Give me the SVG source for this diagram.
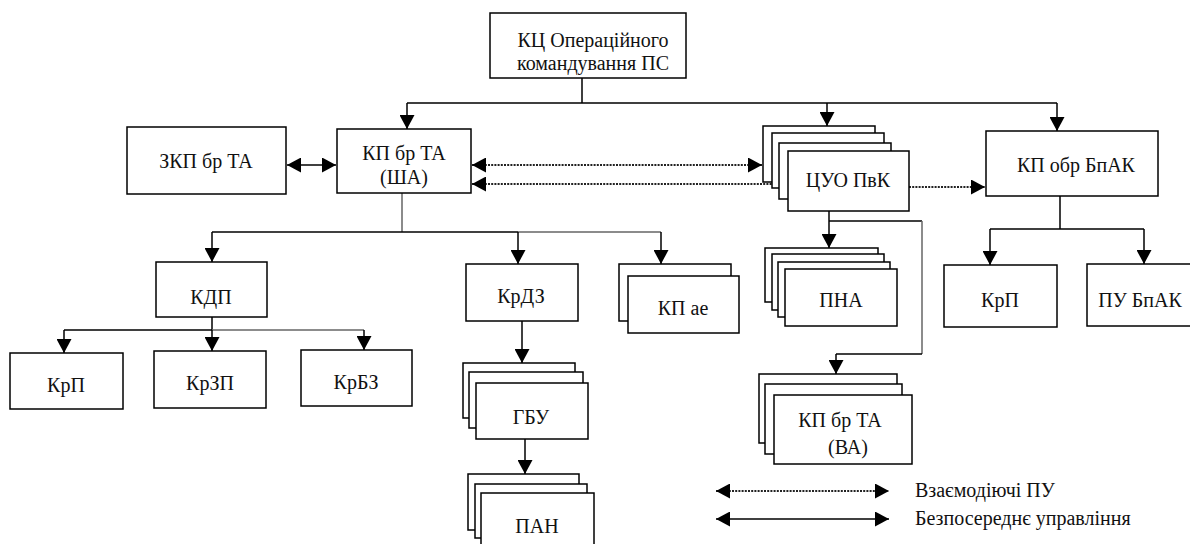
<svg xmlns="http://www.w3.org/2000/svg" width="1190" height="544" viewBox="0 0 1190 544" font-family="Liberation Serif, DejaVu Serif, serif">
  <style>
    .box { fill: #fff; stroke: #000; stroke-width: 1.5; }
    .t { font-size: 20px; fill: #111; text-anchor: middle; }
    .lt { font-size: 20px; fill: #111; }
    .ln { fill: none; stroke: #000; stroke-width: 1.5; }
    .gr { fill: none; stroke: #666; stroke-width: 1.5; }
    .dot { fill: none; stroke: #222; stroke-width: 2; stroke-dasharray: 2 1.2; }
  </style>
  <defs>
    <marker id="ah" markerUnits="userSpaceOnUse" viewBox="0 0 14 15" markerWidth="14" markerHeight="15" refX="14" refY="7.5" orient="auto-start-reverse">
      <path d="M0,0 L14,7.5 L0,15 z" fill="#000"/>
    </marker>
  </defs>

  <!-- connectors -->
  <g id="connectors">
    <path class="ln" d="M582,78 V103 M407,103 H1057"/>
    <path class="ln" d="M407,103 V129" marker-end="url(#ah)"/>
    <path class="ln" d="M827,103 V126" marker-end="url(#ah)"/>
    <path class="ln" d="M1057,103 V131" marker-end="url(#ah)"/>

    <path class="ln" d="M287,165 H336" marker-start="url(#ah)" marker-end="url(#ah)"/>
    <path class="dot" d="M472,165 H762" marker-start="url(#ah)" marker-end="url(#ah)"/>
    <path class="dot" d="M472,184 H772" marker-start="url(#ah)"/>
    <path class="dot" d="M909,187 H985" marker-end="url(#ah)"/>

    <path class="gr" d="M402,193 V232 M518,232 H661"/>
    <path class="ln" d="M212,232 H518"/>
    <path class="ln" d="M212,232 V262" marker-end="url(#ah)"/>
    <path class="ln" d="M518,232 V264" marker-end="url(#ah)"/>
    <path class="ln" d="M661,232 V264" marker-end="url(#ah)"/>

    <path class="ln" d="M212,317 V330 M64,330 H212"/>
    <path class="gr" d="M212,330 H364"/>
    <path class="ln" d="M64,330 V353" marker-end="url(#ah)"/>
    <path class="ln" d="M212,330 V351" marker-end="url(#ah)"/>
    <path class="ln" d="M364,330 V350" marker-end="url(#ah)"/>

    <path class="ln" d="M522,321 V363" marker-end="url(#ah)"/>
    <path class="ln" d="M525,439 V474" marker-end="url(#ah)"/>

    <path class="ln" d="M829,211 V248" marker-end="url(#ah)"/>
    <path class="ln" d="M829,221 H922"/>
    <path class="gr" d="M922,221 V354"/>
    <path class="ln" d="M922,354 H836"/>
    <path class="ln" d="M836,354 V374" marker-end="url(#ah)"/>

    <path class="ln" d="M1060,196 V229 M990,229 H1144"/>
    <path class="ln" d="M990,229 V265" marker-end="url(#ah)"/>
    <path class="ln" d="M1144,229 V264" marker-end="url(#ah)"/>
  </g>

  <!-- nodes -->
  <g id="kc">
    <rect class="box" x="490" y="13" width="196" height="65"/>
    <text class="t" x="593" y="47">КЦ Операційного</text>
    <text class="t" x="593" y="70">командування ПС</text>
  </g>
  <g id="zkp">
    <rect class="box" x="127" y="127" width="159" height="67"/>
    <text class="t" x="206" y="168">ЗКП бр ТА</text>
  </g>
  <g id="kp-sha">
    <rect class="box" x="337" y="129" width="134" height="64"/>
    <text class="t" x="404" y="160">КП бр ТА</text>
    <text class="t" x="404" y="184">(ША)</text>
  </g>
  <g id="tsuo">
    <rect class="box" x="763" y="126" width="112" height="56"/>
    <rect class="box" x="772" y="133" width="112" height="55"/>
    <rect class="box" x="779" y="143" width="112" height="56"/>
    <rect class="box" x="788" y="151" width="121" height="60"/>
    <text class="t" x="848" y="187">ЦУО ПвК</text>
  </g>
  <g id="kp-bpak">
    <rect class="box" x="986" y="131" width="172" height="65"/>
    <text class="t" x="1076" y="172">КП обр БпАК</text>
  </g>
  <g id="kdp">
    <rect class="box" x="156" y="262" width="111" height="55"/>
    <text class="t" x="211" y="304">КДП</text>
  </g>
  <g id="krp1">
    <rect class="box" x="10" y="353" width="113" height="56"/>
    <text class="t" x="66" y="392">КрП</text>
  </g>
  <g id="krzp">
    <rect class="box" x="154" y="351" width="112" height="57"/>
    <text class="t" x="210" y="390">КрЗП</text>
  </g>
  <g id="krbz">
    <rect class="box" x="301" y="350" width="111" height="56"/>
    <text class="t" x="356" y="389">КрБЗ</text>
  </g>
  <g id="krdz">
    <rect class="box" x="466" y="264" width="112" height="57"/>
    <text class="t" x="521" y="303">КрДЗ</text>
  </g>
  <g id="kp-ae">
    <rect class="box" x="619" y="264" width="112" height="57"/>
    <rect class="box" x="628" y="276" width="111" height="57"/>
    <text class="t" x="683" y="315">КП ае</text>
  </g>
  <g id="gbu">
    <rect class="box" x="463" y="363" width="112" height="55"/>
    <rect class="box" x="469" y="372" width="114" height="56"/>
    <rect class="box" x="476" y="383" width="112" height="56"/>
    <text class="t" x="531" y="424">ГБУ</text>
  </g>
  <g id="pan">
    <rect class="box" x="468" y="474" width="111" height="56"/>
    <rect class="box" x="475" y="484" width="112" height="54"/>
    <rect class="box" x="481" y="493" width="113" height="60"/>
    <text class="t" x="537" y="533">ПАН</text>
  </g>
  <g id="pna">
    <rect class="box" x="765" y="248" width="113" height="54"/>
    <rect class="box" x="772" y="254" width="112" height="56"/>
    <rect class="box" x="778" y="262" width="112" height="55"/>
    <rect class="box" x="785" y="269" width="112" height="57"/>
    <text class="t" x="841" y="307">ПНА</text>
  </g>
  <g id="kp-va">
    <rect class="box" x="759" y="374" width="138" height="69"/>
    <rect class="box" x="765" y="384" width="137" height="70"/>
    <rect class="box" x="774" y="395" width="138" height="69"/>
    <text class="t" x="840" y="427">КП бр ТА</text>
    <text class="t" x="848" y="454">(ВА)</text>
  </g>
  <g id="krp2">
    <rect class="box" x="944" y="265" width="113" height="62"/>
    <text class="t" x="1000" y="307">КрП</text>
  </g>
  <g id="pu-bpak">
    <rect class="box" x="1087" y="264" width="110" height="62"/>
    <text class="t" x="1140" y="307">ПУ БпАК</text>
  </g>

  <!-- legend -->
  <g id="legend">
    <path class="dot" d="M716,491 H889" stroke-width="1.5" marker-start="url(#ah)" marker-end="url(#ah)"/>
    <path class="ln" d="M716,519 H889" stroke-width="2" marker-start="url(#ah)" marker-end="url(#ah)"/>
    <text class="lt" x="915" y="497">Взаємодіючі ПУ</text>
    <text class="lt" x="915" y="525">Безпосереднє управління</text>
  </g>
</svg>
